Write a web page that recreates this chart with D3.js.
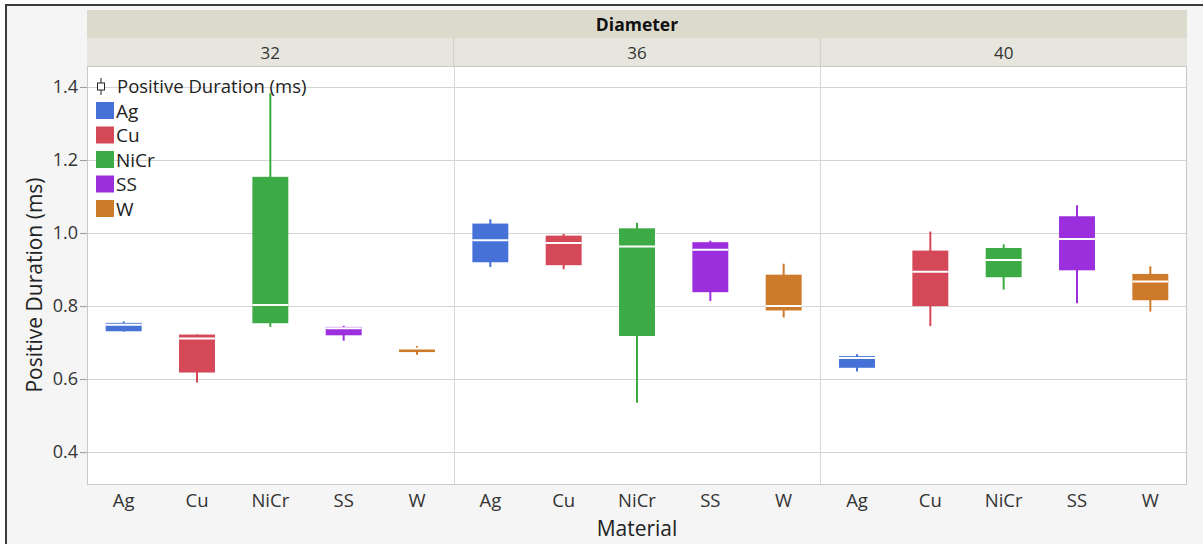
<!DOCTYPE html>
<html>
<head>
<meta charset="utf-8">
<script src="https://cdn.jsdelivr.net/npm/d3@7"></script>
<style>
  html, body { margin: 0; padding: 0; background: #ffffff; }
  svg { display: block; font-family: "Open Sans", "Noto Sans", sans-serif; }
</style>
</head>
<body>
<svg id="chart" width="1203" height="544"></svg>
<script>
// Facet groups and categories
const diameters = ["32", "36", "40"];
const materials = ["Ag", "Cu", "NiCr", "SS", "W"];
const colors = ["#4672d8", "#d44858", "#3cab46", "#9c2fdd", "#cd7a2b"];
const yTicks = [0.4, 0.6, 0.8, 1.0, 1.2, 1.4];

// Box-plot statistics, one row per diameter, one value per material
const whiskerLow = [
  [0.730, 0.591, 0.743, 0.705, 0.667],
  [0.907, 0.901, 0.535, 0.814, 0.769],
  [0.621, 0.745, 0.845, 0.808, 0.785]
];
const quartile1 = [
  [0.731, 0.618, 0.753, 0.720, 0.674],
  [0.920, 0.912, 0.718, 0.838, 0.788],
  [0.631, 0.800, 0.879, 0.898, 0.816]
];
const median = [
  [0.749, 0.711, 0.803, 0.739, 0.684],
  [0.980, 0.973, 0.963, 0.954, 0.800],
  [0.658, 0.894, 0.926, 0.984, 0.867]
];
const quartile3 = [
  [0.754, 0.722, 1.154, 0.743, 0.684],
  [1.026, 0.993, 1.013, 0.975, 0.886],
  [0.663, 0.952, 0.959, 1.046, 0.888]
];
const whiskerHigh = [
  [0.758, 0.722, 1.383, 0.746, 0.691],
  [1.038, 0.998, 1.028, 0.979, 0.916],
  [0.668, 1.004, 0.969, 1.076, 0.909]
];

const svg = d3.select("#chart");
const W = 1203, H = 544;
const plot = { left: 87, right: 1187, top: 66, bottom: 485 };
const FONT = "'Open Sans', 'Noto Sans', sans-serif";

// Page frame
svg.append("rect").attr("x", 6).attr("y", 5).attr("width", W + 10).attr("height", H + 10)
  .attr("fill", "#f5f5f5").attr("stroke", "#3a3a3a").attr("stroke-width", 2);

const facet = d3.scaleBand().domain(diameters).range([plot.left, plot.right]);
const y = d3.scaleLinear().domain([0.31, 1.4575]).range([plot.bottom, plot.top]);

// Header bands
svg.append("rect").attr("x", plot.left).attr("y", 10).attr("width", plot.right - plot.left).attr("height", 28)
  .attr("fill", "#dcdacd");
svg.append("text").attr("x", (plot.left + plot.right) / 2).attr("y", 31)
  .attr("text-anchor", "middle").attr("font-size", 17.5).attr("font-weight", "bold").attr("fill", "#111")
  .text("Diameter");
svg.append("rect").attr("x", plot.left).attr("y", 38).attr("width", plot.right - plot.left).attr("height", 28)
  .attr("fill", "#e7e6de");
diameters.forEach((d, i) => {
  svg.append("text").attr("x", facet(d) + facet.bandwidth() / 2).attr("y", 59)
    .attr("text-anchor", "middle").attr("font-size", 17).attr("fill", "#333").text(d);
  if (i > 0) {
    svg.append("line").attr("x1", facet(d)).attr("x2", facet(d)).attr("y1", 38).attr("y2", 66)
      .attr("stroke", "#cfcdc2").attr("stroke-width", 1);
  }
});

// Plot background
svg.append("rect").attr("x", plot.left).attr("y", plot.top).attr("width", plot.right - plot.left)
  .attr("height", plot.bottom - plot.top).attr("fill", "#ffffff");

// Horizontal grid
svg.append("g").selectAll("line").data(yTicks).join("line")
  .attr("x1", plot.left).attr("x2", plot.right)
  .attr("y1", d => Math.round(y(d)) + 0.5).attr("y2", d => Math.round(y(d)) + 0.5)
  .attr("stroke", "#d4d4d4").attr("stroke-width", 1);

// Facet separators
diameters.slice(1).forEach(d => {
  svg.append("line").attr("x1", Math.round(facet(d)) + 0.5).attr("x2", Math.round(facet(d)) + 0.5)
    .attr("y1", plot.top).attr("y2", plot.bottom).attr("stroke", "#d8d8d8");
});

// Plot frame
svg.append("rect").attr("x", plot.left + 0.5).attr("y", plot.top + 0.5)
  .attr("width", plot.right - plot.left - 1).attr("height", plot.bottom - plot.top - 1)
  .attr("fill", "none").attr("stroke", "#c8c8c8");

// Y axis
const yAxis = svg.append("g").attr("transform", `translate(${plot.left},0)`)
  .call(d3.axisLeft(y).tickValues(yTicks).tickFormat(d3.format(".1f")).tickSize(7).tickPadding(2));
yAxis.select(".domain").remove();
yAxis.selectAll(".tick line").attr("stroke", "#9a9a9a");
yAxis.selectAll(".tick text").attr("font-size", 18).attr("fill", "#333").attr("font-family", FONT);

svg.append("text").attr("transform", "translate(42,285) rotate(-90)")
  .attr("text-anchor", "middle").attr("font-size", 21).attr("fill", "#222")
  .text("Positive Duration (ms)");

// Per-facet material axis and boxes
diameters.forEach((d, di) => {
  const x = d3.scaleBand().domain(materials).range([facet(d), facet(d) + facet.bandwidth()]);
  const g = svg.append("g");

  const xAxis = svg.append("g").attr("transform", `translate(0,${plot.bottom})`)
    .call(d3.axisBottom(x).tickSize(0).tickPadding(9));
  xAxis.select(".domain").remove();
  xAxis.selectAll(".tick text").attr("font-size", 18.5).attr("fill", "#333").attr("font-family", FONT);

  const bw = x.bandwidth() * 0.49;
  materials.forEach((m, mi) => {
    const cx = x(m) + x.bandwidth() / 2;
    const col = colors[mi];
    // whisker
    g.append("line").attr("x1", cx).attr("x2", cx)
      .attr("y1", y(whiskerLow[di][mi])).attr("y2", y(whiskerHigh[di][mi]))
      .attr("stroke", col).attr("stroke-width", 2);
    // box
    g.append("rect").attr("x", cx - bw / 2).attr("width", bw)
      .attr("y", y(quartile3[di][mi]))
      .attr("height", Math.max(1, y(quartile1[di][mi]) - y(quartile3[di][mi])))
      .attr("fill", col);
    // median
    g.append("line").attr("x1", cx - bw / 2).attr("x2", cx + bw / 2)
      .attr("y1", y(median[di][mi])).attr("y2", y(median[di][mi]))
      .attr("stroke", "#ffffff").attr("stroke-width", 2);
  });
});

svg.append("text").attr("x", (plot.left + plot.right) / 2).attr("y", 536)
  .attr("text-anchor", "middle").attr("font-size", 21).attr("fill", "#222").text("Material");

// Legend
const lg = svg.append("g").attr("transform", "translate(96,78)");
lg.append("line").attr("x1", 5).attr("x2", 5).attr("y1", 0).attr("y2", 17).attr("stroke", "#222");
lg.append("rect").attr("x", 1.5).attr("y", 5).attr("width", 7).attr("height", 7)
  .attr("fill", "#fff").attr("stroke", "#222");
lg.append("text").attr("x", 21).attr("y", 15).attr("font-size", 18.5).attr("fill", "#222")
  .text("Positive Duration (ms)");
materials.forEach((m, i) => {
  const yy = 24 + i * 24.5;
  lg.append("rect").attr("x", 0).attr("y", yy).attr("width", 18).attr("height", 17).attr("fill", colors[i]);
  lg.append("text").attr("x", 20).attr("y", yy + 15.5).attr("font-size", 19).attr("fill", "#222").text(m);
});
</script>
</body>
</html>
